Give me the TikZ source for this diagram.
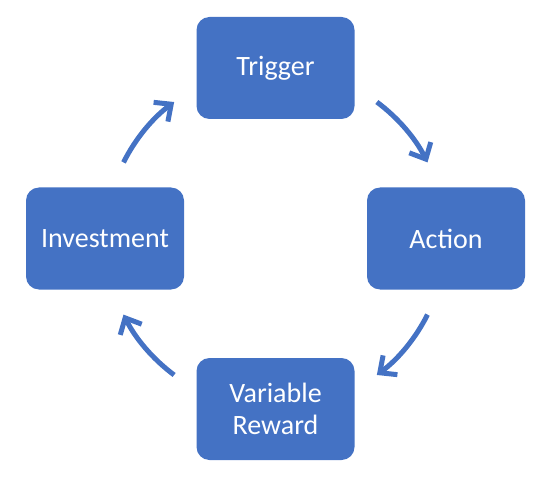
\documentclass[tikz,border=0pt]{standalone}
\usepackage{fontspec}
\setmainfont{Carlito}
\usetikzlibrary{arrows.meta,calc}
\definecolor{hookblue}{HTML}{4472C4}
\begin{document}
\begin{tikzpicture}[x=1pt, y=1pt,
        stage/.style = {fill=hookblue, rounded corners=13pt, minimum width=158pt, minimum height=102pt, text=white, align=center, font=\fontsize{28}{32}\selectfont},
        cyclearrow/.style = {draw=hookblue, line width=5pt, -{Straight Barb[length=13pt, width=24pt]}}]
    \useasboundingbox (0,0) rectangle (553,501);
    \coordinate (hub) at (275.5,262.5);

    \node[stage] (trigger) at ($(hub)+(0,170.5)$) {Trigger};
    \node[stage] (action) at ($(hub)+(170.5,0)$) {Action};
    \node[stage] (reward) at ($(hub)+(0,-170.5)$) {Variable\\Reward};
    \node[stage] (investment) at ($(hub)+(-170.5,0)$) {Investment};

    % arrows run clockwise on a circle round the hub
    \foreach \from/\a/\b in {trigger/53.4/26.6, action/-26.6/-53.4, reward/233.4/206.6, investment/153.4/126.6} {
        \coordinate (\from-exit) at ($(hub)+(\a:170)$);
        \draw[cyclearrow] (\from-exit) arc[start angle=\a, end angle=\b, radius=170];
    }
\end{tikzpicture}
\end{document}
